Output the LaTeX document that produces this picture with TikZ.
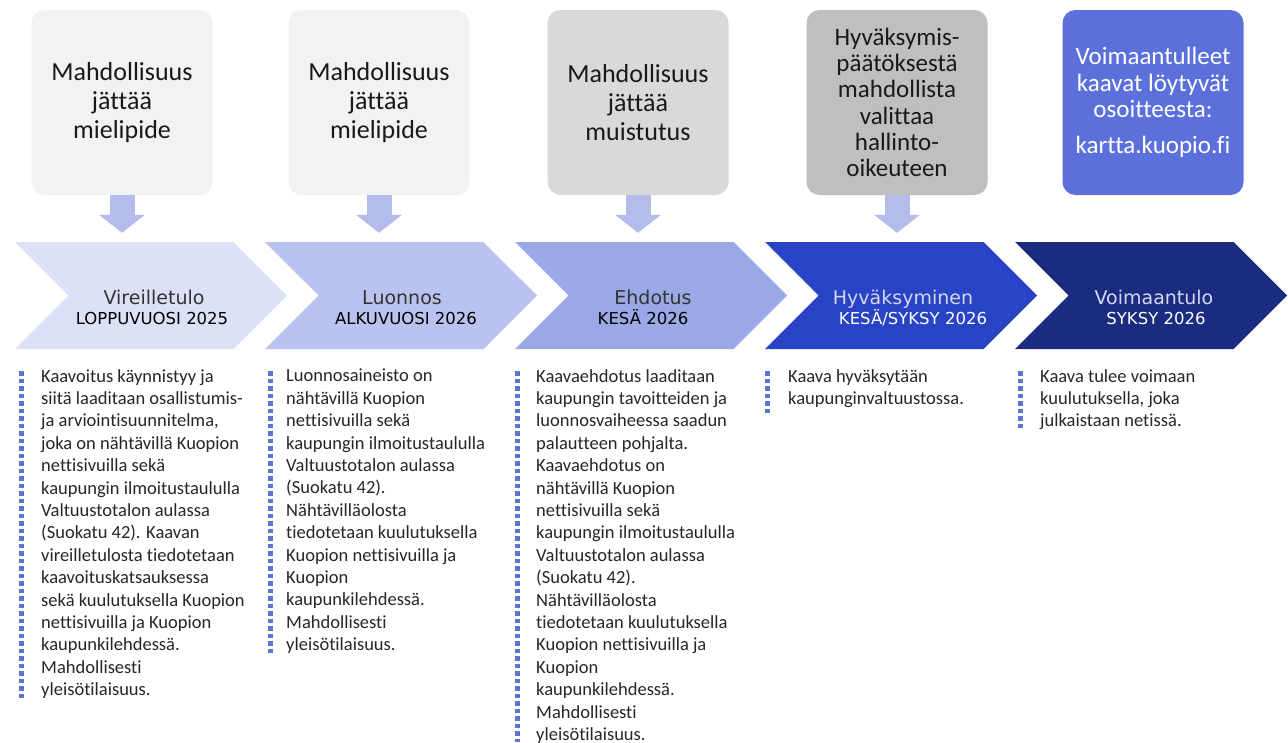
\documentclass[tikz,border=0pt]{standalone}
\usepackage{fontspec}
\setmainfont{Carlito}[Ligatures=CommonOff]
\newfontfamily\phasefont{DejaVu Sans}
\usetikzlibrary{shapes.symbols,arrows.meta}

\definecolor{boxlight}{HTML}{F2F2F2}
\definecolor{boxmid}{HTML}{D9D9D9}
\definecolor{boxdark}{HTML}{BFBFBF}
\definecolor{boxblue}{HTML}{5B70DB}
\definecolor{arrowlav}{HTML}{B4BCEC}
\definecolor{phaseA}{HTML}{DCE1F7}
\definecolor{phaseB}{HTML}{BAC3EF}
\definecolor{phaseC}{HTML}{9AA8E6}
\definecolor{phaseD}{HTML}{2843C3}
\definecolor{phaseE}{HTML}{1B2B7F}
\definecolor{dotblue}{HTML}{5F72D6}
\definecolor{bodygray}{HTML}{262626}
\definecolor{titlegray}{HTML}{333333}
\definecolor{titlelight}{HTML}{D3D8F2}

\begin{document}
\begin{tikzpicture}[x=1pt,y=-1pt,
  infobox/.style={rounded corners=13pt,minimum width=181pt,minimum height=185pt,inner sep=0pt,align=center,text=black!90,font=\fontsize{26}{29}\selectfont},
  phase/.style={signal,signal to=east,signal from=west,signal pointer angle=90,minimum width=272pt,minimum height=107pt,inner sep=0pt},
  phasetitle/.style={anchor=base,inner sep=0pt,font=\phasefont\fontsize{19}{20}\selectfont},
  phasedate/.style={anchor=base,inner sep=0pt,font=\phasefont\fontsize{16.5}{20}\selectfont},
  downarrow/.style={draw=arrowlav,line width=25pt,-{Triangle[width=45pt,length=18pt]},shorten >=9pt},
  bodytext/.style={anchor=north west,align=left,inner sep=0pt,text=bodygray,font=\fontsize{18.5}{22.4}\selectfont},
  dotbar/.style={draw=dotblue,line width=5pt,dash pattern=on 4.5pt off 3pt}]
\useasboundingbox (0,0) rectangle (1288,742);
\clip (0,0) rectangle (1288,742);

% boxes on top
\node[infobox,fill=boxlight] (box1) at (122,102.5) {Mahdollisuus\\jättää\\mielipide};
\node[infobox,fill=boxlight] (box2) at (379,102.5) {Mahdollisuus\\jättää\\mielipide};
\node[infobox,fill=boxmid] (box3) at (638,102.5) {Mahdollisuus\\jättää\\muistutus};
\node[infobox,fill=boxdark,font=\fontsize{25}{26.3}\selectfont] (box4) at (897,102.5)
  {Hyväksymis-\\päätöksestä\\mahdollista\\valittaa\\hallinto-\\oikeuteen};
\node[infobox,fill=boxblue,text=white,font=\fontsize{25}{26.5}\selectfont] (box5) at (1153,102.5)
  {Voimaantulleet\\kaavat löytyvät\\osoitteesta:\\[9pt]kartta.kuopio.fi};

% phases
\node[phase,fill=phaseA] (vire) at (151,295.5) {};
\node[phase,fill=phaseB] (luon) at (401,295.5) {};
\node[phase,fill=phaseC] (ehdo) at (651,295.5) {};
\node[phase,fill=phaseD] (hyva) at (901,295.5) {};
\node[phase,fill=phaseE] (voim) at (1151,295.5) {};

\node[phasetitle,text=titlegray] (vireT) at (154,304) {Vireilletulo};
\node[phasedate] (vireD) at (152,324) {LOPPUVUOSI 2025};
\node[phasetitle,text=titlegray] (luonT) at (402,304) {Luonnos};
\node[phasedate] (luonD) at (406,324) {ALKUVUOSI 2026};
\node[phasetitle,text=titlegray] (ehdoT) at (653,304) {Ehdotus};
\node[phasedate] (ehdoD) at (643,324) {KESÄ 2026};
\node[phasetitle,text=titlelight] (hyvaT) at (903,304) {Hyväksyminen};
\node[phasedate,text=white] (hyvaD) at (913,324) {KESÄ/SYKSY 2026};
\node[phasetitle,text=titlelight] (voimT) at (1154,304) {Voimaantulo};
\node[phasedate,text=white] (voimD) at (1156,324) {SYKSY 2026};

% arrows from boxes
\draw[downarrow] (box1.south) -- (box1.south |- vire.north);
\draw[downarrow] (box2.south) -- (box2.south |- luon.north);
\draw[downarrow] (box3.south) -- (box3.south |- ehdo.north);
\draw[downarrow] (box4.south) -- (box4.south |- hyva.north);

% descriptions
\node[bodytext] (vireX) at (41,369) {Kaavoitus käynnistyy ja\\siitä laaditaan osallistumis-\\ja arviointisuunnitelma,\\joka on nähtävillä Kuopion\\nettisivuilla sekä\\kaupungin ilmoitustaululla\\Valtuustotalon aulassa\\(Suokatu 42). Kaavan\\vireilletulosta tiedotetaan\\kaavoituskatsauksessa\\sekä kuulutuksella Kuopion\\nettisivuilla ja Kuopion\\kaupunkilehdessä.\\Mahdollisesti\\yleisötilaisuus.};
\node[bodytext] (luonX) at (286,369) {Luonnosaineisto on\\nähtävillä Kuopion\\nettisivuilla sekä\\kaupungin ilmoitustaululla\\Valtuustotalon aulassa\\(Suokatu 42).\\Nähtävilläolosta\\tiedotetaan kuulutuksella\\Kuopion nettisivuilla ja\\Kuopion\\kaupunkilehdessä.\\Mahdollisesti\\yleisötilaisuus.};
\node[bodytext] (ehdoX) at (536,369) {Kaavaehdotus laaditaan\\kaupungin tavoitteiden ja\\luonnosvaiheessa saadun\\palautteen pohjalta.\\Kaavaehdotus on\\nähtävillä Kuopion\\nettisivuilla sekä\\kaupungin ilmoitustaululla\\Valtuustotalon aulassa\\(Suokatu 42).\\Nähtävilläolosta\\tiedotetaan kuulutuksella\\Kuopion nettisivuilla ja\\Kuopion\\kaupunkilehdessä.\\Mahdollisesti\\yleisötilaisuus.};
\node[bodytext] (hyvaX) at (788,369) {Kaava hyväksytään\\kaupunginvaltuustossa.};
\node[bodytext] (voimX) at (1040,369) {Kaava tulee voimaan\\kuulutuksella, joka\\julkaistaan netissä.};

% dotted bars
\draw[dotbar] (21,371) -- (21,701);
\draw[dotbar] (270,371) -- (270,653);
\draw[dotbar] (517,371) -- (517,742);
\draw[dotbar] (767,371) -- (767,416);
\draw[dotbar] (1020,371) -- (1020,430);
\end{tikzpicture}
\end{document}
